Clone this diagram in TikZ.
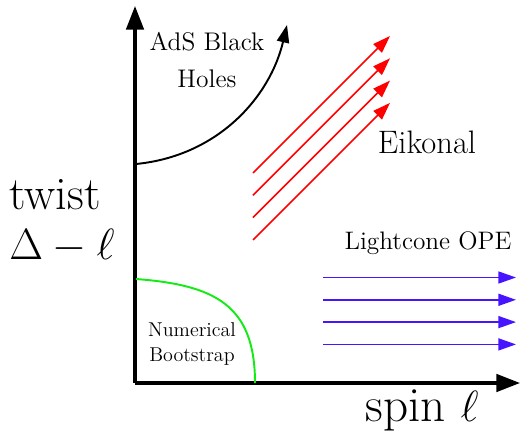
\documentclass[tikz,border=0pt]{standalone}
\usetikzlibrary{arrows.meta}
\definecolor{lcblue}{RGB}{70,20,255}
\definecolor{bsgreen}{RGB}{20,235,20}
\begin{document}
\begin{tikzpicture}[x=0.02cm, y=-0.02cm,
  axis/.style={line width=1.8pt, -{Triangle[length=13.5pt, width=10pt]}},
  ray/.style={line width=0.9pt, -{Triangle[length=10pt, width=6.8pt]}},
  lbl/.style={inner sep=0pt, align=center}]
\useasboundingbox (0,0) rectangle (521,439);

% axes
\coordinate (O) at (135,383);
\coordinate (ytop) at (135,6);
\coordinate (xend) at (520,383);
\draw[axis] (O) -- (ytop);
\draw[axis] (O) -- (xend);

\node[lbl, anchor=base west, font=\fontsize{26.5}{28}\selectfont] (twist) at (9,210) {twist};
\node[lbl, anchor=base west, font=\fontsize{26.5}{28}\selectfont] (delta) at (9,259) {$\Delta-\ell$};
\node[lbl, font=\fontsize{28}{30}\selectfont] (spin) at (422,410) {spin $\ell$};

% AdS black holes
\coordinate (bhstart) at (136,164);
\coordinate (bhend) at (287,25);
\draw[line width=1.1pt, -{Triangle[length=10pt, width=7pt]}] (bhstart) .. controls (218,156) and (270,97) .. (bhend);
\node[lbl, font=\fontsize{14.5}{21.5}\selectfont] (ads) at (207,60) {AdS Black\\Holes};

% numerical bootstrap
\coordinate (nbstart) at (136,279);
\coordinate (nbend) at (255,383);
\draw[bsgreen, line width=1.1pt] (nbstart) .. controls (215,285) and (255,305) .. (nbend);
\node[lbl, font=\fontsize{11.4}{14}\selectfont] (nb) at (192,344) {Numerical\\Bootstrap};

% eikonal
\foreach \i in {0,...,3} {
  \coordinate (e\i) at (253,173+22.3*\i);
  \coordinate (f\i) at (390,36+22.3*\i);
  \draw[ray, red] (e\i) -- (f\i);
}
\node[lbl, font=\fontsize{18.5}{20}\selectfont] (eik) at (427,142) {Eikonal};

% lightcone OPE
\foreach \i in {0,...,3} {
  \coordinate (l\i) at (323,277.5+22.3*\i);
  \coordinate (m\i) at (516,277.5+22.3*\i);
  \draw[ray, lcblue] (l\i) -- (m\i);
}
\node[lbl, font=\fontsize{14.4}{17}\selectfont] (lc) at (428,243) {Lightcone OPE};
\end{tikzpicture}
\end{document}
